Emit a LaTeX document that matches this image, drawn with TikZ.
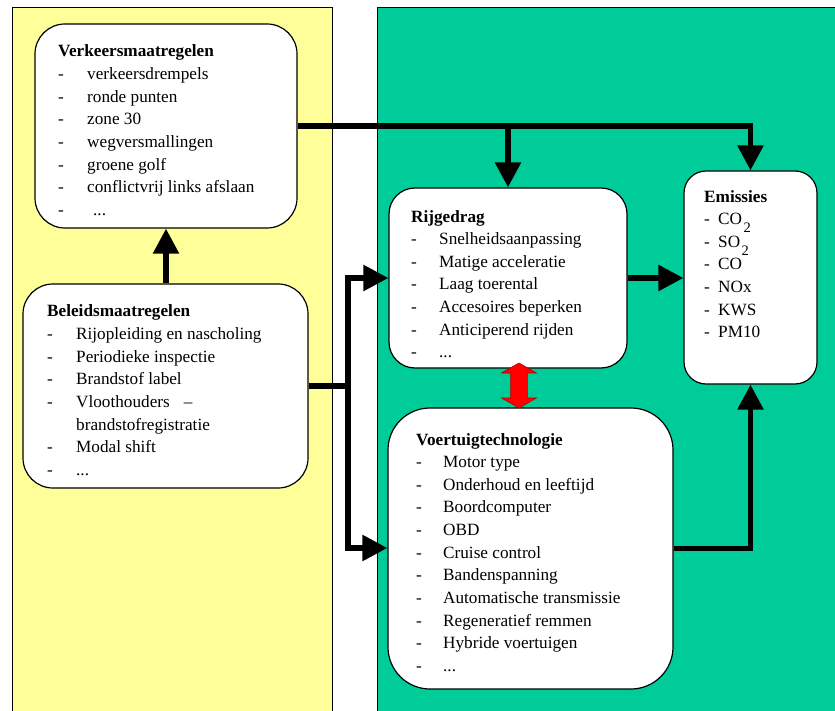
\documentclass[tikz,border=0pt]{standalone}
\usepackage{fontspec}
\setmainfont{Liberation Serif}
\usetikzlibrary{arrows.meta}
\definecolor{panelyellow}{HTML}{FFFF99}
\definecolor{panelgreen}{HTML}{00CC99}
\definecolor{redarrow}{HTML}{FF0000}
\newcommand{\li}[2][29pt]{\makebox[#1][l]{-}#2}
\newcommand{\sub}[1]{\kern1.5pt\raisebox{-8pt}{\fontsize{14.5}{14.5}\selectfont #1}}
\tikzset{
  panel/.style={draw=black, line width=0.9pt},
  box/.style={rectangle, draw=black, fill=white, line width=1.2pt, inner sep=0pt},
  txt/.style={anchor=base west, align=left, inner sep=0pt, font=\fontsize{17.2}{22.65}\selectfont},
  conn/.style={draw=black, line width=5.5pt, line join=miter},
  tip/.tip={Triangle[length=25pt,width=25pt]}
}
\begin{document}
\begin{tikzpicture}[x=1pt,y=-1pt]
\clip (0,0) rectangle (835,711);
\fill[white] (0,0) rectangle (835,711);
% panels
\filldraw[panel, fill=panelyellow] (12,7) rectangle (332,730);
\filldraw[panel, fill=panelgreen] (377,7) rectangle (850,730);
% boxes
\node[box, rounded corners=30pt, minimum width=262pt, minimum height=204pt] (verk) at (166,126) {};
\node[box, rounded corners=30pt, minimum width=285pt, minimum height=204pt] (bel) at (165.5,386) {};
\node[box, rounded corners=26pt, minimum width=238pt, minimum height=180pt] (rij) at (508,278) {};
\node[box, rounded corners=22pt, minimum width=133pt, minimum height=213pt] (emis) at (750.5,277.5) {};
\node[box, rounded corners=42pt, minimum width=285pt, minimum height=281pt] (voer) at (530.5,548.5) {};
% texts (anchor = baseline of the last line)
\node[txt] (verkt) at (58,215.5) {\textbf{Verkeersmaatregelen}\\
\li{verkeersdrempels}\\ \li{ronde punten}\\ \li{zone 30}\\ \li{wegversmallingen}\\
\li{groene golf}\\ \li{conflictvrij links afslaan}\\ \li{\hspace{6pt}...}};
\node[txt] (belt) at (47,475.5) {\textbf{Beleidsmaatregelen}\\
\li{Rijopleiding en nascholing}\\ \li{Periodieke inspectie}\\ \li{Brandstof label}\\
\li{Vloothouders\hspace{14pt}--}\\ \hspace{29pt}brandstofregistratie\\ \li{Modal shift}\\ \li{...}};
\node[txt] (rijt) at (411,357.9) {\textbf{Rijgedrag}\\
\li[28pt]{Snelheidsaanpassing}\\ \li[28pt]{Matige acceleratie}\\ \li[28pt]{Laag toerental}\\
\li[28pt]{Accesoires beperken}\\ \li[28pt]{Anticiperend rijden}\\ \li[28pt]{...}};
\node[txt] (emist) at (704,337.9) {\textbf{Emissies}\\
\li[14pt]{CO\sub{2}}\\ \li[14pt]{SO\sub{2}}\\ \li[14pt]{CO}\\ \li[14pt]{NOx}\\ \li[14pt]{KWS}\\ \li[14pt]{PM10}};
\node[txt] (voert) at (416,671.5) {\textbf{Voertuigtechnologie}\\
\li[27pt]{Motor type}\\ \li[27pt]{Onderhoud en leeftijd}\\ \li[27pt]{Boordcomputer}\\ \li[27pt]{OBD}\\
\li[27pt]{Cruise control}\\ \li[27pt]{Bandenspanning}\\ \li[27pt]{Automatische transmissie}\\
\li[27pt]{Regeneratief remmen}\\ \li[27pt]{Hybride voertuigen}\\ \li[27pt]{...}};
% connectors
\coordinate (j1) at (348,278);
\coordinate (j2) at (348,548);
\draw[conn,-tip] (bel.north -| verk.south) -- (verk.south);
\draw[conn,-tip] (verk.east) -- (emis.north |- verk.east) -- (emis.north);
\draw[conn,-tip] (rij.north |- verk.east) -- (rij.north);
\draw[conn,-tip] (rij.east) -- (emis.west |- rij.east);
\draw[conn] (bel.east) -- (bel.east -| j1);
\draw[conn,tip-tip] (rij.west |- j1) -- (j1) -- (j2) -- (voer.west |- j2);
\draw[conn,-tip] (voer.east) -- (emis.south |- voer.east) -- (emis.south);
% red double arrow between rij and voer
\filldraw[fill=redarrow, draw=red!70!black, line width=0.6pt]
  (519,363) -- (536.5,373) -- (527.3,373) -- (527.3,398) -- (536.5,398) -- (519,408)
  -- (501.5,398) -- (510.7,398) -- (510.7,373) -- (501.5,373) -- cycle;
\end{tikzpicture}
\end{document}
